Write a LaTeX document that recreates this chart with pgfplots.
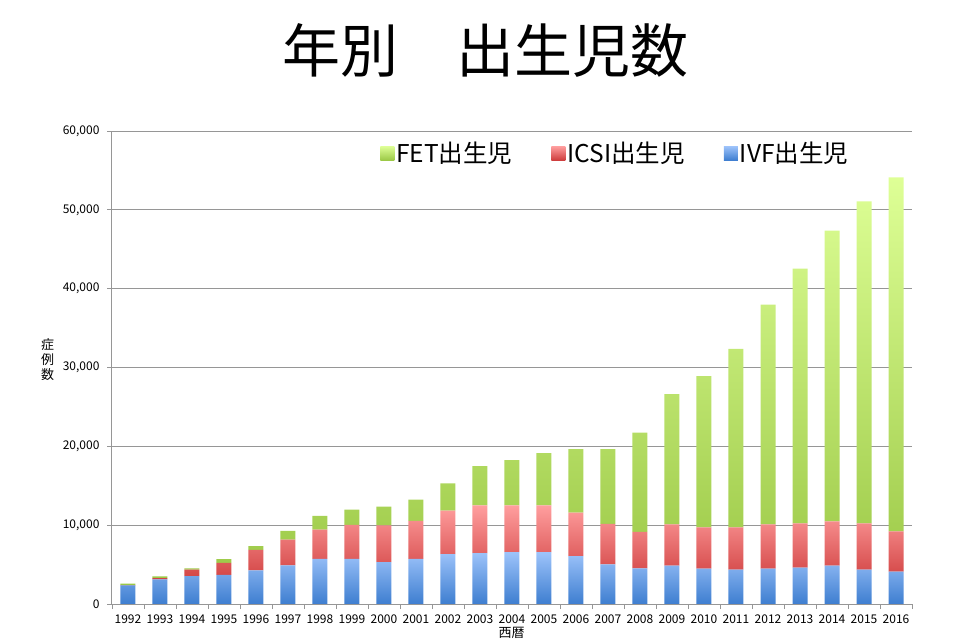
\documentclass[border=0pt]{standalone}
\usepackage{pgfplots}
\pgfplotsset{compat=1.18}
\usepackage{fontspec}
\setmainfont{Noto Sans CJK JP}
\definecolor{blueT}{RGB}{157,195,250}
\definecolor{blueB}{RGB}{62,126,208}
\definecolor{redT}{RGB}{255,158,158}
\definecolor{redB}{RGB}{206,60,60}
\definecolor{greenT}{RGB}{222,255,150}
\definecolor{greenB}{RGB}{155,200,70}
\definecolor{axgray}{RGB}{150,150,150}
\begin{document}
\begin{tikzpicture}[x=1pt,y=1pt]
\useasboundingbox (0,0) rectangle (975,643);
\node[font=\fontsize{58}{60}\selectfont] at (485,593) {年別　出生児数};
\begin{axis}[
  at={(111pt,39pt)}, anchor=south west,
  scale only axis, width=801pt, height=473pt,
  ybar stacked, bar width=15pt,
  xmin=-0.53, xmax=24.5, ymin=0, ymax=60000,
  ytick={0,10000,20000,30000,40000,50000,60000},
  scaled y ticks=false,
  yticklabel style={/pgf/number format/1000 sep={,}, /pgf/number format/fixed, font=\fontsize{12}{14}\selectfont, xshift=-4pt},
  /pgf/number format/assume math mode=true,
  ymajorgrids, grid style={draw=axgray, line width=0.9pt},
  axis lines*=left, axis line style={draw=axgray, line width=0.9pt},
  tick align=outside,
  ytick style={draw=axgray, line width=0.9pt},
  major tick length=4pt,
  xtick={0,...,24},
  xticklabels={1992,1993,1994,1995,1996,1997,1998,1999,2000,2001,2002,2003,2004,2005,2006,2007,2008,2009,2010,2011,2012,2013,2014,2015,2016},
  xticklabel style={font=\fontsize{12}{14}\selectfont, yshift=-3pt},
  xtick style={draw=none},
  extra x ticks={-0.5,0.5,...,24.5},
  extra x tick labels={},
  extra x tick style={xtick style={draw=axgray, line width=0.9pt}, major tick length=5pt, grid=none},
  xlabel={西暦},
  xlabel style={font=\fontsize{13}{14}\selectfont, at={(axis description cs:0.5,-0.061)}, anchor=center},
  ylabel={\shortstack{症\\例\\数}},
  ylabel style={rotate=-90, font=\fontsize{13}{15}\selectfont, at={(axis description cs:-0.079,0.516)}, anchor=center},
  legend columns=3,
  reverse legend,
  legend style={draw=none, fill=none, inner sep=0pt, font=\fontsize{24.5}{26}\selectfont,
    at={(axis description cs:0.336,0.953)}, anchor=west,
    /tikz/every even column/.append style={column sep=37pt}},
  legend image code/.code={\path[#1,draw=none] (0pt,-7pt) rectangle (14pt,7pt);},
]
\addplot[draw=none, top color=blueT, bottom color=blueB] coordinates {
(0,2350) (1,3120) (2,3550) (3,3680) (4,4270) (5,4910) (6,5730) (7,5730) (8,5300) (9,5730)
(10,6320) (11,6450) (12,6580) (13,6580) (14,6070) (15,5040) (16,4530) (17,4880) (18,4500) (19,4370)
(20,4500) (21,4620) (22,4880) (23,4370) (24,4110)};
\addplot[draw=none, top color=redT, bottom color=redB] coordinates {
(0,60) (1,170) (2,810) (3,1530) (4,2610) (5,3250) (6,3710) (7,4310) (8,4660) (9,4830)
(10,5520) (11,6070) (12,5940) (13,5940) (14,5510) (15,5130) (16,4620) (17,5210) (18,5210) (19,5340)
(20,5590) (21,5600) (22,5590) (23,5850) (24,5090)};
\addplot[draw=none, top color=greenT, bottom color=greenB] coordinates {
(0,180) (1,210) (2,170) (3,470) (4,470) (5,1110) (6,1750) (7,1930) (8,2390) (9,2690)
(10,3460) (11,4960) (12,5730) (13,6630) (14,8080) (15,9490) (16,12600) (17,16540) (18,19210) (19,22650)
(20,27870) (21,32320) (22,36900) (23,40840) (24,44910)};
\legend{IVF出生児,ICSI出生児,FET出生児}
\end{axis}
\end{tikzpicture}
\end{document}
